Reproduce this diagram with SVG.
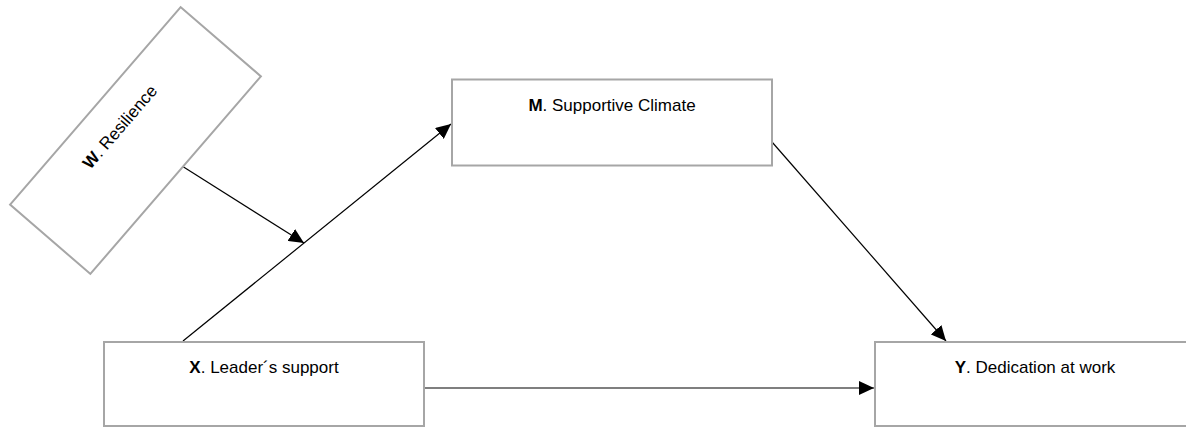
<svg xmlns="http://www.w3.org/2000/svg" width="1186" height="427" viewBox="0 0 1186 427">
<style>
.box{fill:#fff;stroke:#a6a6a6;stroke-width:2}
.lbl{font-family:"Liberation Sans",Arial,sans-serif;font-size:17px;fill:#000;text-anchor:middle}
.lbl tspan.b{font-weight:bold}
.conn{stroke:#000;stroke-width:1.2;fill:none;marker-end:url(#ah)}
</style>
<defs>
<marker id="ah" markerUnits="userSpaceOnUse" markerWidth="16" markerHeight="14" refX="15" refY="7" orient="auto">
<path d="M0,0 L15,7 L0,14 z" fill="#000"/>
</marker>
</defs>
<rect width="1186" height="427" fill="#fff"/>
<g id="connectors">
<line class="conn" x1="183" y1="341" x2="451" y2="124"/>
<line class="conn" x1="182" y1="166" x2="304" y2="243"/>
<line class="conn" x1="772" y1="142" x2="946" y2="341"/>
<line class="conn" x1="424" y1="388" x2="874" y2="388"/>
</g>
<g id="W" transform="translate(135.5,140.5) rotate(-49.2)">
<rect class="box" x="-130.5" y="-53" width="261" height="106"/>
<text class="lbl" x="0" y="-15"><tspan class="b">W</tspan>. Resilience</text>
</g>
<g id="M">
<rect class="box" x="452" y="79.5" width="320" height="86"/>
<text class="lbl" x="612" y="111"><tspan class="b">M</tspan>. Supportive Climate</text>
</g>
<g id="X">
<rect class="box" x="104" y="342" width="320" height="84"/>
<text class="lbl" x="264" y="372.5"><tspan class="b">X</tspan>. Leader´s support</text>
</g>
<g id="Y">
<rect class="box" x="875" y="342" width="320" height="84"/>
<text class="lbl" x="1035" y="372.5"><tspan class="b">Y</tspan>. Dedication at work</text>
</g>
</svg>
